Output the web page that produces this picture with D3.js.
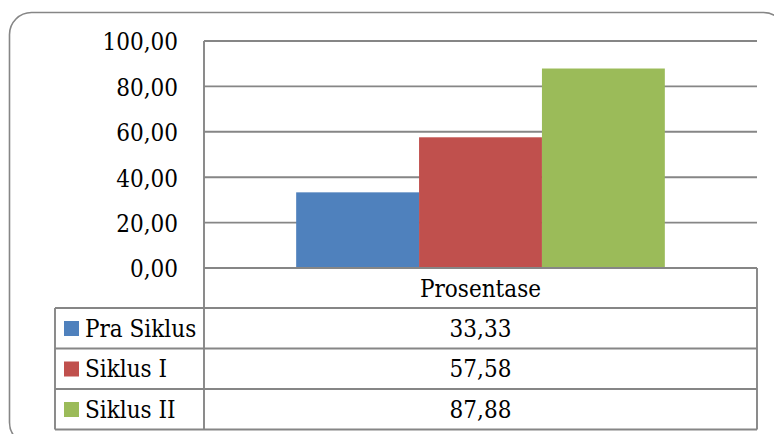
<!DOCTYPE html>
<html>
<head>
<meta charset="utf-8">
<script src="https://cdn.jsdelivr.net/npm/d3@7"></script>
<style>
  html, body { margin: 0; padding: 0; background: #fff; }
  svg { display: block; }
  text { font-family: "DejaVu Serif Condensed", "DejaVu Serif", serif; font-stretch: condensed; fill: #000; }
</style>
</head>
<body>
<svg id="chart" width="774" height="434"></svg>
<script>
// Chart data
const categories = ["Prosentase"];
const seriesNames = ["Pra Siklus", "Siklus I", "Siklus II"];
const seriesValues = [33.33, 57.58, 87.88];
const seriesColors = ["#4F81BD", "#C0504D", "#9BBB59"];
const yTicks = [0, 20, 40, 60, 80, 100];

const fmt = v => d3.format(".2f")(v).replace(".", ",");

const svg = d3.select("#chart");

// Layout
const plot = { left: 204, right: 757, top: 41, bottom: 268 };
const table = { left: 55, headerBottom: 308, rowH: 40.5 };
const lineColor = "#868686";
const fontSize = 24;
const fontFamily = "'DejaVu Serif Condensed', 'DejaVu Serif', serif";

// Outer rounded frame
svg.append("rect")
  .attr("x", 9.5).attr("y", 12.5)
  .attr("width", 776).attr("height", 432)
  .attr("rx", 22).attr("ry", 22)
  .attr("fill", "#fff")
  .attr("stroke", lineColor)
  .attr("stroke-width", 1.6);

// Scales
const y = d3.scaleLinear().domain([0, 100]).range([plot.bottom, plot.top]);
const x = d3.scaleBand().domain(categories).range([plot.left, plot.right]).padding(0);
const xs = d3.scaleBand().domain(seriesNames)
  .range([0, x.bandwidth()])
  .paddingInner(0).paddingOuter(0.75);

// Gridlines
svg.append("g")
  .selectAll("line")
  .data(yTicks.filter(t => t > 0))
  .join("line")
  .attr("x1", plot.left).attr("x2", plot.right)
  .attr("y1", d => y(d)).attr("y2", d => y(d))
  .attr("stroke", lineColor).attr("stroke-width", 1.9);

// Y axis labels
const yAxis = d3.axisLeft(y).tickValues(yTicks).tickFormat(fmt).tickSize(0).tickPadding(26);
const gy = svg.append("g").attr("transform", `translate(${plot.left},0)`).call(yAxis);
gy.select(".domain").remove();
gy.selectAll("text")
  .attr("font-family", fontFamily)
  .attr("font-size", fontSize)
  .attr("fill", "#000")
  .attr("dy", "0.37em");

// Bars
svg.append("g")
  .selectAll("rect")
  .data(seriesNames.map((s, i) => ({ s, v: seriesValues[i], c: seriesColors[i] })))
  .join("rect")
  .attr("x", d => x(categories[0]) + xs(d.s))
  .attr("width", xs.bandwidth())
  .attr("y", d => y(d.v))
  .attr("height", d => y(0) - y(d.v))
  .attr("fill", d => d.c);

// Data table
const rowTops = seriesNames.map((_, i) => table.headerBottom + i * table.rowH);
const tableBottom = table.headerBottom + seriesNames.length * table.rowH;
const g = svg.append("g").attr("stroke", lineColor).attr("stroke-width", 1.9);

// zero line / table top
g.append("line").attr("x1", plot.left).attr("x2", plot.right)
  .attr("y1", y(0)).attr("y2", y(0));
// row separators
g.selectAll("line.row")
  .data([...rowTops, tableBottom])
  .join("line").attr("class", "row")
  .attr("x1", table.left).attr("x2", plot.right)
  .attr("y1", d => d).attr("y2", d => d);
// verticals
g.append("line").attr("x1", table.left).attr("x2", table.left)
  .attr("y1", table.headerBottom).attr("y2", tableBottom);
g.append("line").attr("x1", plot.left).attr("x2", plot.left)
  .attr("y1", plot.top).attr("y2", tableBottom);
g.append("line").attr("x1", plot.right).attr("x2", plot.right)
  .attr("y1", y(0)).attr("y2", tableBottom);

const midX = x(categories[0]) + x.bandwidth() / 2;

// header
svg.append("text")
  .attr("x", midX)
  .attr("y", (y(0) + table.headerBottom) / 2 + 8.5)
  .attr("text-anchor", "middle")
  .attr("font-family", fontFamily)
  .attr("font-size", fontSize)
  .text(categories[0]);

// rows: legend keys, names, values
const rows = svg.append("g").selectAll("g")
  .data(seriesNames.map((s, i) => ({ s, v: seriesValues[i], c: seriesColors[i], top: rowTops[i] })))
  .join("g");

rows.append("rect")
  .attr("x", 64).attr("y", d => d.top + 13)
  .attr("width", 15).attr("height", 15)
  .attr("fill", d => d.c);

rows.append("text")
  .attr("x", 85)
  .attr("y", d => d.top + table.rowH / 2 + 8.5)
  .attr("font-family", fontFamily)
  .attr("font-size", fontSize)
  .text(d => d.s);

rows.append("text")
  .attr("x", midX)
  .attr("y", d => d.top + table.rowH / 2 + 8.5)
  .attr("text-anchor", "middle")
  .attr("font-family", fontFamily)
  .attr("font-size", fontSize)
  .text(d => fmt(d.v));
</script>
</body>
</html>
